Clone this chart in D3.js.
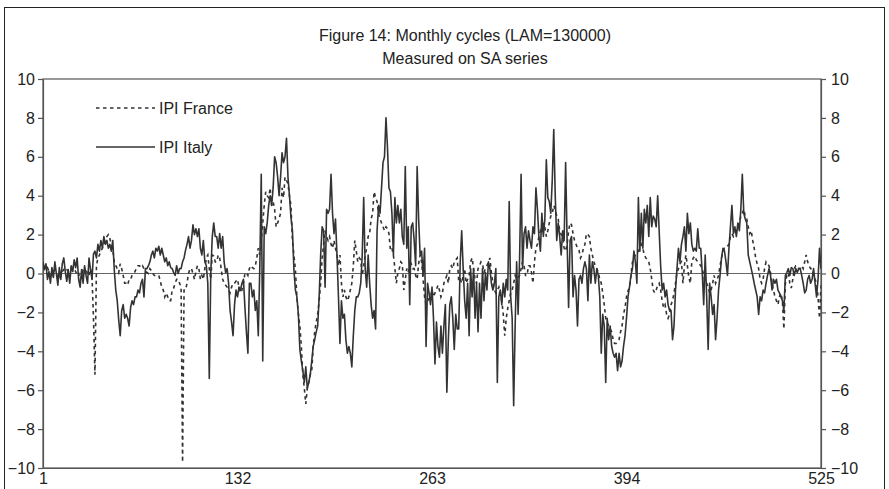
<!DOCTYPE html>
<html><head><meta charset="utf-8">
<script src="https://cdn.jsdelivr.net/npm/d3@7"></script>
<style>
body{margin:0;background:#fff}
svg{display:block}
text{font-family:"Liberation Sans",Arial,Helvetica,sans-serif;fill:#222}
</style>
</head><body>
<svg id="chart" width="889" height="489"></svg>
<script>
const titleLine1 = "Figure 14: Monthly cycles (LAM=130000)";
const titleLine2 = "Measured on SA series";
const seriesNames = ["IPI France", "IPI Italy"];
const xTickValues = [1, 132, 263, 394, 525];
const yTickValues = [-10, -8, -6, -4, -2, 0, 2, 4, 6, 8, 10];

const ipiFrance = [
0.4,0.3,0.2,0.3,0.1,0.0,-0.1,0.1,0.2,0.0,
-0.2,-0.3,-0.1,0.1,0.2,0.3,0.2,0.1,0.25,0.3,0.2,
0.25,0.1,-0.1,0.0,-0.3,-0.2,0.2,0.25,0.1,0.05,
-0.1,0.25,-0.1,-2.3,-5.2,0.4,0.8,0.95,1.15,
1.3,1.5,1.7,1.9,2.0,1.8,1.5,1.2,0.6,0.4,
0.25,0.05,0.5,0.25,-0.1,-0.5,-0.5,-0.6,-0.3,-0.3,
-0.1,0.0,0.1,0.3,0.4,0.4,0.3,0.4,0.25,
0.1,0.05,0.0,0.25,0.15,0.0,-0.1,-0.1,-0.1,-0.1,
-0.4,-0.7,-0.85,-1.2,-1.0,-1.2,-1.4,-1.4,-0.85,
-0.75,-0.5,-0.3,-0.3,-0.5,-0.7,-9.7,-0.85,-0.85,-0.5,
0.0,0.25,0.25,0.0,-0.3,0.1,0.4,0.25,-0.3,-0.1,
-0.3,0.25,0.8,0.95,0.25,-0.3,0.95,0.9,0.6,
0.6,0.95,0.8,0.25,-0.3,-0.5,-0.6,-0.7,-0.85,-1.0,
-0.7,-0.5,-0.5,-0.4,-0.3,-0.7,-1.0,-0.85,-0.5,
0.0,0.05,-0.1,0.25,0.4,0.3,0.25,0.4,0.8,1.3,
0.95,1.7,2.6,3.5,4.2,4.0,3.9,4.4,3.5,3.7,
3.3,2.4,2.6,2.8,3.1,4.4,3.9,4.95,4.8,
4.6,4.0,3.5,1.7,0.95,0.2,-1.2,-2.1,-2.7,-3.75,
-5.2,-5.9,-6.7,-5.9,-5.6,-5.2,-5.0,-3.75,-3.0,-2.5,
-2.1,-1.4,-0.5,0.8,1.5,2.2,1.9,1.7,1.9,
1.5,1.3,1.7,1.3,0.95,0.4,0.95,-0.5,-1.2,-0.85,
-1.2,-1.4,-1.2,-0.85,-0.5,0.4,1.7,1.15,0.6,0.8,
0.7,-0.1,0.4,0.95,1.3,1.9,2.05,2.8,3.1,
4.2,3.9,3.7,3.1,2.8,2.6,2.4,2.2,2.4,2.3,
2.05,1.2,1.3,0.95,0.25,-0.5,0.05,0.25,0.6,
0.5,-0.85,-0.3,0.25,0.05,0.4,0.5,0.25,0.25,-0.1,
-0.3,0.5,0.95,0.6,-0.3,-1.2,-1.6,-1.4,-1.3,-1.2,
-0.85,-1.2,-1.0,-0.85,-0.6,-0.85,-1.2,-1.0,-0.5,
-0.3,-0.1,-0.5,0.25,0.4,0.25,0.6,0.7,0.8,-0.4,
-0.3,-0.5,-0.1,0.25,-0.5,-0.3,-0.1,0.6,0.8,0.25,
-0.3,-0.5,0.25,0.4,0.6,0.5,0.05,0.25,0.4,
0.6,0.8,0.05,-0.5,-0.85,-1.0,-0.85,-0.7,-1.2,-1.4,
-2.1,-3.2,-2.3,-1.8,-1.4,-1.0,-0.85,-0.5,-0.1,-0.3,
-0.2,-0.1,0.25,0.6,0.4,-0.1,-0.1,0.4,0.4,
0.05,-0.5,0.6,1.3,1.5,1.9,2.2,2.05,2.6,2.4,
1.9,2.2,2.6,2.95,3.1,3.5,3.3,2.95,2.8,
2.2,2.0,1.9,1.3,1.15,1.5,2.2,2.6,2.5,2.05,
1.7,1.5,1.3,1.2,0.8,0.95,1.3,1.5,2.05,2.0,
1.9,1.3,0.95,0.6,0.4,0.25,0.05,-0.3,-0.5,
-1.0,-1.6,-2.3,-2.5,-2.7,-2.85,-3.0,-3.4,-3.6,-3.6,
-3.5,-3.4,-3.0,-2.7,-2.1,-1.75,-1.2,-0.9,-0.7,-0.1,
0.6,0.8,0.95,1.0,1.15,1.3,1.5,1.3,0.95,
0.8,0.7,0.6,0.25,-0.3,-0.85,-1.0,-0.85,-0.6,-0.5,
-0.85,-1.4,-1.75,-1.6,-2.1,-2.3,-2.1,-1.6,-1.4,
-1.0,-0.5,0.05,0.25,0.5,0.6,-0.5,0.4,0.95,0.4,
-0.2,-0.5,0.6,0.8,0.9,0.7,0.6,0.5,0.4,0.25,
-0.1,-0.5,-0.5,-0.7,-1.0,-0.85,-0.5,-0.1,-0.5,
-0.3,-0.1,0.4,0.8,1.15,1.3,1.3,1.4,1.5,1.9,
2.05,1.9,2.05,2.2,2.4,2.6,2.95,3.1,3.3,2.95,
2.8,2.4,2.05,2.2,1.7,1.3,0.8,0.5,0.25,
-0.3,-0.5,-0.3,0.25,0.6,0.5,0.4,0.05,-0.5,
-0.85,-1.2,-1.4,-1.6,-1.2,-1.0,-1.4,-2.85,-0.5,
-0.1,0.05,-0.5,-0.75,-0.3,0.25,0.4,0.4,0.25,
0.25,0.4,0.25,0.6,0.95,0.6,0.4,0.25,0.25,-0.1,
-0.3,-0.5,-1.2,-2.3,-0.6
];

const ipiItaly = [
0.6,0.2,0.5,-0.3,0.1,-0.5,0.3,-0.2,0.6,0.0,
-0.6,0.3,-0.3,0.5,0.8,0.1,-0.4,0.2,-0.5,0.4,0.1,
0.7,0.3,0.8,-0.3,-0.7,0.2,-0.5,0.4,-0.1,-0.5,
0.8,0.2,-0.3,1.0,1.15,0.8,1.5,1.15,1.7,
1.3,1.9,1.5,1.7,1.3,1.5,1.15,1.7,0.2,-0.85,
-1.4,-2.4,-3.2,-1.9,-1.6,-2.3,-2.1,-2.3,-2.7,-1.75,
-1.4,-1.6,-1.2,-1.2,-0.85,-1.0,-0.5,-0.3,-1.2,
0.25,0.25,0.4,0.6,0.95,1.15,0.8,1.3,1.15,1.4,
0.95,1.3,0.95,0.6,0.8,0.4,0.6,0.3,0.25,
0.05,-0.1,0.4,0.0,0.25,0.25,0.6,0.8,1.2,1.5,
1.9,1.3,1.7,2.5,2.0,2.3,1.9,2.3,1.3,0.95,
1.7,0.6,0.4,-0.5,-5.4,0.0,1.9,2.6,1.9,
1.9,1.3,2.05,1.3,1.9,0.6,0.05,0.25,-0.5,-1.9,
-2.5,-3.2,-1.6,-0.85,-1.2,-0.7,-0.85,-0.5,-0.3,
-1.75,-3.0,-4.1,-0.5,-0.5,-1.2,-0.85,-1.9,-1.4,-3.2,
0.25,5.1,-4.5,2.4,2.05,2.6,3.5,4.0,3.5,4.4,
6.0,5.7,5.0,4.0,4.95,6.2,5.7,6.0,6.95,
4.95,4.0,2.9,2.2,0.2,-0.85,-1.2,-2.1,-3.9,-4.5,
-5.0,-5.6,-4.8,-5.9,-5.6,-5.2,-4.5,-3.75,-3.4,-3.0,
-2.7,-1.2,0.95,2.4,2.2,-0.7,3.3,3.1,3.3,
5.1,3.1,2.05,2.8,0.95,-1.2,-3.6,-1.4,-2.3,-2.1,
-3.4,-4.1,-3.75,-4.1,-4.8,-3.2,-1.9,-1.2,-1.2,-1.0,
-0.5,0.95,3.9,0.25,-0.7,0.95,-0.5,-1.6,-2.3,
-1.9,-2.85,2.2,3.5,3.1,4.4,5.7,6.0,8.0,6.5,
4.4,4.2,3.1,0.95,3.9,2.6,3.5,2.6,3.3,
1.9,1.5,5.5,1.3,2.4,-1.6,2.4,2.6,1.7,0.4,
5.5,2.8,0.95,1.15,-0.1,1.3,-3.75,-0.5,-1.0,-1.6,
-0.7,-2.3,-4.65,-2.5,-3.75,-4.3,-2.7,-4.1,-2.7,
-1.6,-6.1,-3.4,-1.6,-1.2,-2.3,-3.9,-2.1,-2.85,-2.85,
0.6,2.2,0.25,-1.4,-2.3,-0.5,-3.2,0.25,-1.2,0.25,
-2.3,-0.5,-3.0,-0.5,-2.3,0.25,-1.4,0.05,-0.85,
0.6,0.25,-0.5,-0.85,-0.5,0.25,-5.6,-1.2,-0.85,-1.6,
-0.5,-1.2,-0.3,-0.85,3.7,-1.2,-2.3,-6.8,-2.7,0.6,
-2.1,0.8,5.1,0.25,2.05,2.4,1.3,2.2,1.7,
1.3,2.4,2.05,4.4,3.3,1.9,1.15,3.1,1.9,2.8,
5.85,3.9,3.7,3.1,4.8,7.4,4.0,1.7,2.6,
1.9,0.95,2.2,1.7,5.7,1.7,-1.75,1.7,1.9,-1.2,
-0.1,-0.85,-2.7,-0.3,-0.1,-0.5,0.25,0.6,0.25,-1.4,
0.95,-0.5,0.6,0.25,-0.5,0.25,-0.1,-1.2,-4.1,
-2.1,-2.7,-5.6,-2.3,-3.4,-2.7,-3.75,-4.1,-4.3,-4.1,
-5.0,-4.1,-4.8,-4.5,-3.75,-3.2,-2.3,-1.2,-0.7,-0.1,
0.25,1.15,0.6,-0.5,3.9,1.15,3.1,1.3,3.3,
2.6,3.5,1.9,3.9,2.4,2.95,2.8,2.4,4.0,2.2,
0.4,-0.85,-0.5,-1.2,-0.85,-1.6,-1.9,-1.9,-3.4,
-2.7,-0.85,0.25,1.3,0.6,1.5,1.9,2.4,1.15,3.1,
2.05,2.6,1.5,1.15,1.3,1.15,2.3,1.3,1.3,0.05,
-1.6,0.95,-1.2,-3.9,-0.5,-1.2,-2.1,-1.6,-3.4,
-2.3,-0.85,-0.1,0.8,1.3,1.15,0.6,-0.1,1.3,2.4,
3.5,2.05,2.4,1.9,2.6,2.2,3.3,5.1,3.1,2.8,
2.6,0.95,0.6,0.25,-0.1,-0.5,-0.85,-1.2,-2.1,
-1.2,-1.4,-0.85,-1.0,-0.5,-0.1,0.25,-0.1,-0.85,
-0.3,-0.5,-0.3,-0.85,-1.0,-1.2,-1.4,-1.9,-0.1,
0.05,0.25,-0.1,0.3,0.25,-0.1,0.25,0.05,0.25,
0.25,-0.1,-0.5,-1.0,-0.85,-0.3,-0.1,-0.5,-0.3,0.25,
-0.5,-1.2,-0.3,1.3,0.25
];

const plot = {left: 43, right: 821, top: 79, bottom: 468};
const svg = d3.select("#chart");

// outer frame
svg.append("rect").attr("x", 4.5).attr("y", 7.5).attr("width", 880).attr("height", 500)
  .attr("fill", "none").attr("stroke", "#222").attr("stroke-width", 1);

const months = d3.range(1, ipiItaly.length + 1);
const x = d3.scaleLinear().domain([1, 525]).range([plot.left, plot.right]);
const y = d3.scaleLinear().domain([-10, 10]).range([plot.bottom, plot.top]);

// titles
svg.append("text").attr("x", 465).attr("y", 41).attr("text-anchor", "middle")
  .style("font-size", "16px").text(titleLine1);
svg.append("text").attr("x", 465).attr("y", 64).attr("text-anchor", "middle")
  .style("font-size", "16px").text(titleLine2);

// plot frame
svg.append("rect").attr("x", plot.left).attr("y", plot.top)
  .attr("width", plot.right - plot.left).attr("height", plot.bottom - plot.top)
  .attr("fill", "none").attr("stroke", "#555").attr("stroke-width", 1.2);

const styleAxis = g => {
  g.select(".domain").attr("stroke", "#555").attr("stroke-width", 1.2);
  g.selectAll(".tick line").attr("stroke", "#555").attr("stroke-width", 1.2);
  g.selectAll(".tick text").style("font-size", "16px").attr("fill", "#222")
    .style("font-family", "'Liberation Sans', Arial, sans-serif");
};
svg.append("g").attr("transform", `translate(${plot.left},0)`)
  .call(d3.axisLeft(y).tickValues(yTickValues).tickSize(5).tickSizeOuter(0).tickPadding(3))
  .call(styleAxis);
svg.append("g").attr("transform", `translate(${plot.right},0)`)
  .call(d3.axisRight(y).tickValues(yTickValues).tickSize(5).tickSizeOuter(0).tickPadding(5))
  .call(styleAxis);
svg.append("g").attr("transform", `translate(0,${plot.bottom})`)
  .call(d3.axisBottom(x).tickValues(xTickValues).tickSize(0).tickSizeOuter(0).tickPadding(5)
    .tickFormat(d3.format("d")))
  .call(styleAxis);

// zero line
svg.append("line").attr("x1", plot.left).attr("x2", plot.right)
  .attr("y1", y(0)).attr("y2", y(0)).attr("stroke", "#666").attr("stroke-width", 1.2);

svg.append("clipPath").attr("id", "clip").append("rect")
  .attr("x", plot.left).attr("y", plot.top)
  .attr("width", plot.right - plot.left).attr("height", plot.bottom - plot.top);

const line = d3.line().x((d, i) => x(months[i])).y(d => y(d));
const g = svg.append("g").attr("clip-path", "url(#clip)");
g.append("path").datum(ipiFrance).attr("d", line).attr("fill", "none")
  .attr("stroke", "#333").attr("stroke-width", 1.6).attr("stroke-dasharray", "3.5,3.5");
g.append("path").datum(ipiItaly).attr("d", line).attr("fill", "none")
  .attr("stroke", "#333").attr("stroke-width", 1.6).attr("stroke-linejoin", "round");

// legend
const legendRows = [
  {name: seriesNames[0], dash: "3.5,3.5", y: 108},
  {name: seriesNames[1], dash: null, y: 147}
];
const legend = svg.append("g");
legendRows.forEach(r => {
  legend.append("line").attr("x1", 96).attr("x2", 155).attr("y1", r.y).attr("y2", r.y)
    .attr("stroke", "#333").attr("stroke-width", 1.6)
    .attr("stroke-dasharray", r.dash);
  legend.append("text").attr("x", 159).attr("y", r.y).attr("dy", "0.35em")
    .style("font-size", "16px").text(r.name);
});
</script>
</body></html>
